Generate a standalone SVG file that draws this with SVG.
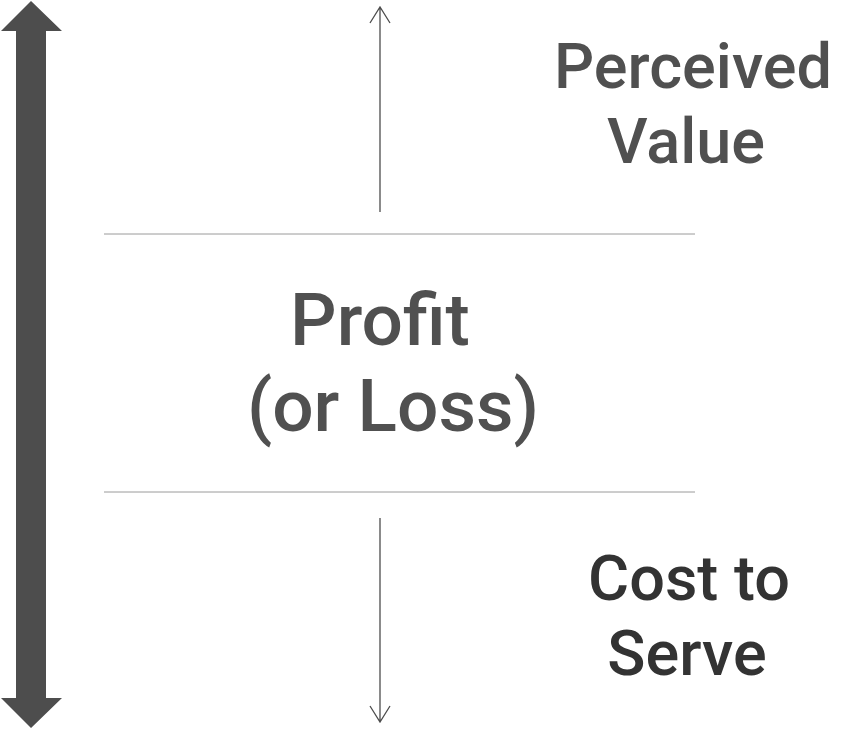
<svg xmlns="http://www.w3.org/2000/svg" width="849" height="729" viewBox="0 0 849 729">
<style>
.t{font-family:Roboto,"Liberation Sans",sans-serif;font-weight:500;text-anchor:middle}
.mid{fill:#505050}
.dark{fill:#333333}
.hl{stroke:#9a9a9a;stroke-width:1;fill:none}
.thin{stroke:#4d4d4d;stroke-width:1.3;fill:none}
</style>
<rect width="849" height="729" fill="#ffffff"/>
<g id="axis">
<polygon points="31,1 62,31 46,31 46,698 62,698 31,728 1,698 16,698 16,31 1,31" fill="#4d4d4d"/>
</g>
<g id="connectors">
<line class="hl" x1="104" y1="234" x2="695" y2="234"/>
<line class="hl" x1="104" y1="492" x2="695" y2="492"/>
<path class="thin" d="M380,212 V7 M370,23 L380,7 L390,23"/>
<path class="thin" d="M380,518 V722 M370,706 L380,722 L390,706"/>
</g>
<g id="perceived">
<text class="t mid" x="693" y="88" font-size="63">Perceived</text>
<text class="t mid" x="686" y="163" font-size="63">Value</text>
</g>
<g id="profit">
<text class="t mid" x="380" y="345" font-size="73">Profit</text>
<text class="t mid" x="393" y="431" font-size="73">(or Loss)</text>
</g>
<g id="cost">
<text class="t dark" x="689" y="600" font-size="63">Cost to</text>
<text class="t dark" x="687" y="675" font-size="63">Serve</text>
</g>
</svg>
